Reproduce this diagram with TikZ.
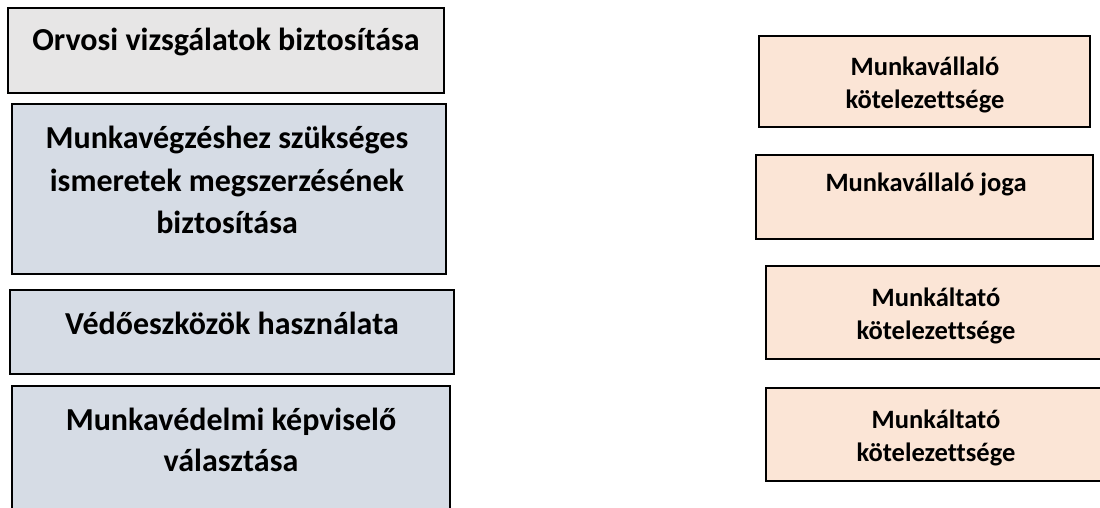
\documentclass[tikz,border=0pt]{standalone}
\usepackage{fontspec}
\setmainfont{Carlito}[Ligatures=NoCommon]
\definecolor{grayfill}{HTML}{E7E6E6}
\definecolor{bluefill}{HTML}{D6DCE5}
\definecolor{peachfill}{HTML}{FBE5D6}
\begin{document}
\begin{tikzpicture}[x=1pt,y=-1pt,
  boxL/.style={draw=black,line width=1.6pt},
  bigtxt/.style={anchor=base,inner sep=0pt,font=\fontsize{32}{38}\selectfont\bfseries},
  smalltxt/.style={anchor=base,inner sep=0pt,font=\fontsize{26.5}{32}\selectfont\bfseries}]
\useasboundingbox (0,0) rectangle (1100,508);
% left boxes
\draw[boxL,fill=grayfill] (8,8) rectangle (444,93);
\draw[boxL,fill=bluefill] (12,104) rectangle (446,274);
\draw[boxL,fill=bluefill] (10,290) rectangle (454,374);
\draw[boxL,fill=bluefill] (12,386) rectangle (450,530);
% right boxes
\draw[boxL,fill=peachfill] (759,36) rectangle (1090,127);
\draw[boxL,fill=peachfill] (756,155) rectangle (1093,239);
\draw[boxL,fill=peachfill] (766,266) rectangle (1115,359);
\draw[boxL,fill=peachfill] (766,388) rectangle (1115,481);
% left texts
\node[bigtxt] (t1) at (226,51) {Orvosi vizsgálatok biztosítása};
\node[bigtxt] (t2a) at (227,149) {Munkavégzéshez szükséges};
\node[bigtxt] (t2b) at (227,191) {ismeretek megszerzésének};
\node[bigtxt] (t2c) at (227,233) {biztosítása};
\node[bigtxt] (t3) at (232,334) {Védőeszközök használata};
\node[bigtxt] (t4a) at (231,430) {Munkavédelmi képviselő};
\node[bigtxt] (t4b) at (231,471) {választása};
% right texts
\node[smalltxt] (r1a) at (925,76) {Munkavállaló};
\node[smalltxt] (r1b) at (925,109) {kötelezettsége};
\node[smalltxt] (r2) at (926,191) {Munkavállaló joga};
\node[smalltxt] (r3a) at (936,306) {Munkáltató};
\node[smalltxt] (r3b) at (936,339) {kötelezettsége};
\node[smalltxt] (r4a) at (936,428) {Munkáltató};
\node[smalltxt] (r4b) at (936,461) {kötelezettsége};
\end{tikzpicture}
\end{document}
